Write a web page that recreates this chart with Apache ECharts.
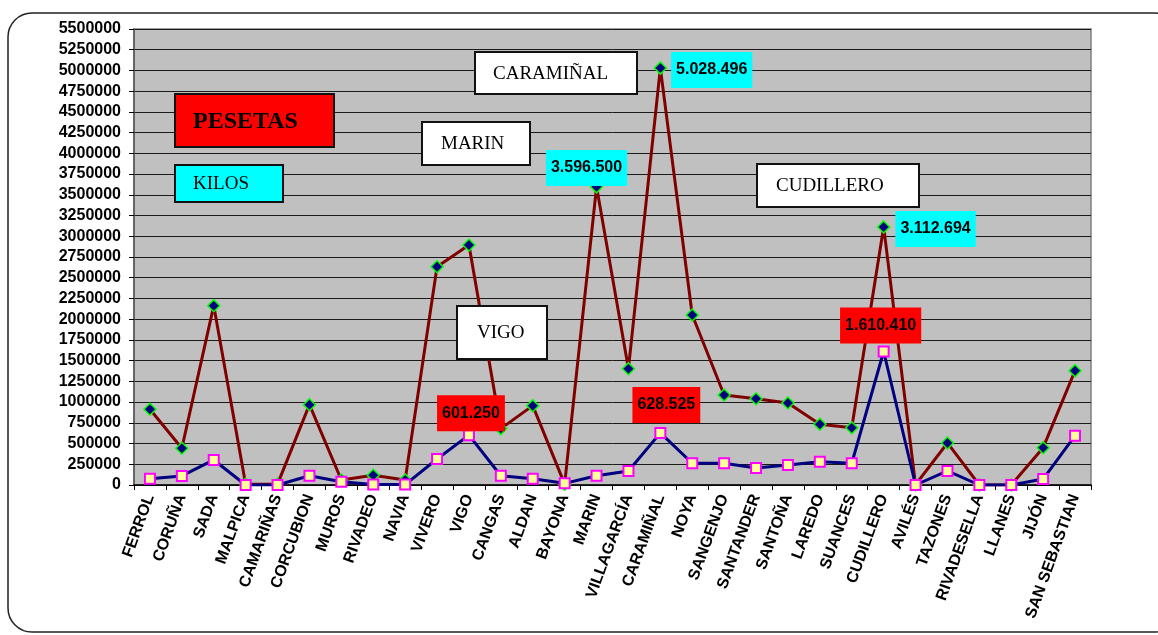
<!DOCTYPE html>
<html>
<head>
<meta charset="utf-8">
<script src="https://cdn.jsdelivr.net/npm/echarts@6/dist/echarts.min.js"></script>
<style>html,body{margin:0;padding:0;background:#fff}#c{width:1158px;height:635px}</style>
</head>
<body>
<div id="c"></div>
<script>
const categories = ['FERROL','CORUÑA','SADA','MALPICA','CAMARIÑAS','CORCUBION','MUROS','RIVADEO','NAVIA','VIVERO','VIGO','CANGAS','ALDAN','BAYONA','MARIN','VILLAGARCÍA','CARAMIÑAL','NOYA','SANGENJO','SANTANDER','SANTOÑA','LAREDO','SUANCES','CUDILLERO','AVILÉS','TAZONES','RIVADESELLA','LLANES','JIJÓN','SAN SEBASTIAN'];
const pesetas = [913000,443000,2163000,10000,10000,969000,60000,117000,60000,2633000,2895000,680000,957000,10000,3596500,1403000,5028496,2051000,1086000,1041000,989000,732000,691000,3112694,5000,507000,0,0,450000,1379000];
const kilos = [76000,109000,302000,0,0,112000,40000,5000,5000,314000,601250,112000,76000,20000,112000,169000,628525,262000,263000,205000,241000,281000,262000,1610410,0,169000,0,0,72000,595000];
const pesetasLabelled = ['MARIN','CARAMIÑAL','CUDILLERO'];
const kilosLabelled = ['VIGO','CARAMIÑAL','CUDILLERO'];
const yTicks = {min:0, max:5500000, interval:250000};
const notes = ['PESETAS','KILOS','CARAMIÑAL','MARIN','VIGO','CUDILLERO'];

function fmt(v){return String(v).replace(/\B(?=(\d{3})+(?!\d))/g,'.');}

const labelBase = {show:true, formatter:p=>fmt(p.value), color:'#000', fontFamily:'Liberation Sans, Arial', fontWeight:'bold', fontSize:16, padding:[9,5,9,5], lineHeight:18};
const pesLabelPos = {
  'MARIN': {position:'top', distance:0, offset:[-10,6]},
  'CARAMIÑAL': {position:'right', distance:4, offset:[0,2]},
  'CUDILLERO': {position:'right', distance:5, offset:[0,2]}
};
const kilLabelPos = {
  'VIGO': {position:'top', distance:0, offset:[2,2]},
  'CARAMIÑAL': {position:'top', distance:4, offset:[6,0]},
  'CUDILLERO': {position:'top', distance:2, offset:[-3,0]}
};
const pesData = pesetas.map((v,i)=>{
  const c = categories[i];
  if (pesetasLabelled.includes(c)) return {value:v, label:Object.assign({}, labelBase, {backgroundColor:'#00FFFF'}, pesLabelPos[c])};
  return v;
});
const kilData = kilos.map((v,i)=>{
  const c = categories[i];
  if (kilosLabelled.includes(c)) return {value:v, label:Object.assign({}, labelBase, {backgroundColor:'#FF0000'}, kilLabelPos[c])};
  return v;
});

const boxStyles = [
  {x:175,y:94,w:159,h:53,fill:'#FF0000',tx:193,font:'bold 24px "Liberation Serif", "Times New Roman", serif'},
  {x:175,y:165,w:108,h:37,fill:'#00FFFF',tx:193,font:'19px "Liberation Serif", "Times New Roman", serif'},
  {x:475,y:52,w:162,h:42,fill:'#FFFFFF',tx:493,font:'19px "Liberation Serif", "Times New Roman", serif'},
  {x:422,y:122,w:108,h:43,fill:'#FFFFFF',tx:441,font:'19px "Liberation Serif", "Times New Roman", serif'},
  {x:457,y:306,w:90,h:53,fill:'#FFFFFF',tx:477,font:'19px "Liberation Serif", "Times New Roman", serif'},
  {x:757,y:164,w:162,h:43,fill:'#FFFFFF',tx:776,font:'19px "Liberation Serif", "Times New Roman", serif'}
];
const graphics = [{
  type:'rect', z:0, silent:true,
  shape:{x:8,y:13,width:1170,height:619,r:24},
  style:{fill:'none',stroke:'#222',lineWidth:1.5}
}];
notes.forEach((t,i)=>{
  const b = boxStyles[i];
  graphics.push({type:'rect', z:100, shape:{x:b.x,y:b.y,width:b.w,height:b.h}, style:{fill:b.fill,stroke:'#111',lineWidth:2}});
  graphics.push({type:'text', z:101, x:b.tx, y:b.y+b.h/2+1, style:{text:t, font:b.font, fill:'#000', verticalAlign:'middle', align:'left'}});
});

const chart = echarts.init(document.getElementById('c'), null, {renderer:'canvas'});
chart.setOption({
  animation:false,
  grid:{left:134,right:67,top:29,bottom:150,show:true,backgroundColor:'#C0C0C0',borderColor:'#808080',borderWidth:1.5},
  xAxis:{
    type:'category', data:categories, boundaryGap:true,
    axisLine:{lineStyle:{color:'#000',width:1.5}},
    axisTick:{show:true,length:5,lineStyle:{color:'#000'}},
    axisLabel:{interval:0, rotate:70, margin:10, color:'#000', fontFamily:'Liberation Sans, Arial', fontWeight:'bold', fontSize:16}
  },
  yAxis:{
    type:'value', min:yTicks.min, max:yTicks.max, interval:yTicks.interval,
    axisLine:{show:true,lineStyle:{color:'#555',width:1.5}},
    axisTick:{show:true,length:5,lineStyle:{color:'#000'}},
    axisLabel:{margin:13, color:'#000', fontFamily:'Liberation Sans, Arial', fontWeight:'bold', fontSize:16, formatter:v=>String(v)},
    splitLine:{show:true,lineStyle:{color:'#1a1a1a',width:1}}
  },
  series:[
    {name:'PESETAS', type:'line', data:pesData, z:3,
     lineStyle:{color:'#800000',width:3}, symbol:'diamond', symbolSize:12,
     itemStyle:{color:'#000080',borderColor:'#00FF00',borderWidth:1.5}},
    {name:'KILOS', type:'line', data:kilData, z:4,
     lineStyle:{color:'#000080',width:3}, symbol:'rect', symbolSize:10,
     itemStyle:{color:'#FFFF99',borderColor:'#FF00FF',borderWidth:2}}
  ],
  graphic:graphics
});
</script>
</body>
</html>
